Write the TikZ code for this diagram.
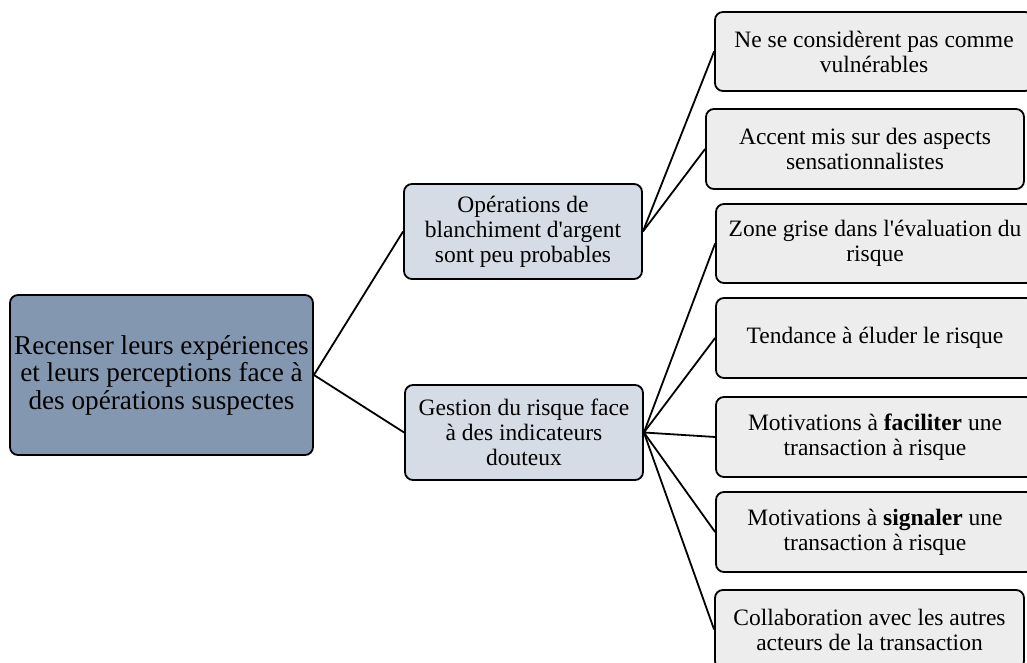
\documentclass[tikz,border=0pt]{standalone}
\usepackage{fontspec}
\setmainfont{Liberation Serif}
\definecolor{rootfill}{HTML}{8497B0}
\definecolor{midfill}{HTML}{D6DCE5}
\definecolor{leaffill}{HTML}{EDEDED}
\begin{document}
\begin{tikzpicture}[x=1pt,y=1pt,
  box/.style={draw=black, line width=1.8pt, rounded corners=8pt, align=center, inner sep=1pt,
    font=\fontsize{23.5}{25}\selectfont, text=black},
  rootbox/.style={box, fill=rootfill, minimum width=303pt, minimum height=160pt,
    font=\fontsize{27.2}{27.5}\selectfont},
  midbox/.style={box, fill=midfill, minimum width=238pt, minimum height=95pt},
  leafbox/.style={box, fill=leaffill, minimum width=318pt, minimum height=79pt},
  link/.style={line width=1.8pt, draw=black}]
\useasboundingbox (0,0) rectangle (1027,663);
\node[rootbox] (root) at (161.5,288) {Recenser leurs expériences\\et leurs perceptions face à\\des opérations suspectes};
\node[midbox] (m1) at (523,431.5) {Opérations de\\blanchiment d\textquotesingle argent\\sont peu probables};
\node[midbox] (m2) at (524,230.5) {Gestion du risque face\\à des indicateurs\\douteux};
\node[leafbox] (l1) at (874,611.5) {Ne se considèrent pas comme\\vulnérables};
\node[leafbox, minimum height=80pt] (l2) at (865,514) {Accent mis sur des aspects\\sensationnalistes};
\node[leafbox] (l3) at (875,419.5) {Zone grise dans l\textquotesingle évaluation du\\risque};
\node[leafbox, minimum height=80pt] (l4) at (875,325) {Tendance à éluder le risque};
\node[leafbox, minimum height=80pt] (l5) at (875,226) {Motivations à \textbf{faciliter} une\\transaction à risque};
\node[leafbox, minimum height=80pt] (l6) at (875,131) {Motivations à \textbf{signaler} une\\transaction à risque};
\node[leafbox, minimum width=309pt] (l7) at (869.5,33.5) {Collaboration avec les autres\\acteurs de la transaction};
\draw[link] (root.east) -- (m1.west);
\draw[link] (root.east) -- (m2.west);
\foreach \n in {l1,l2} \draw[link] (m1.east) -- (\n.west);
\foreach \n in {l3,l4,l5,l6,l7} \draw[link] (m2.east) -- (\n.west);
\end{tikzpicture}
\end{document}
